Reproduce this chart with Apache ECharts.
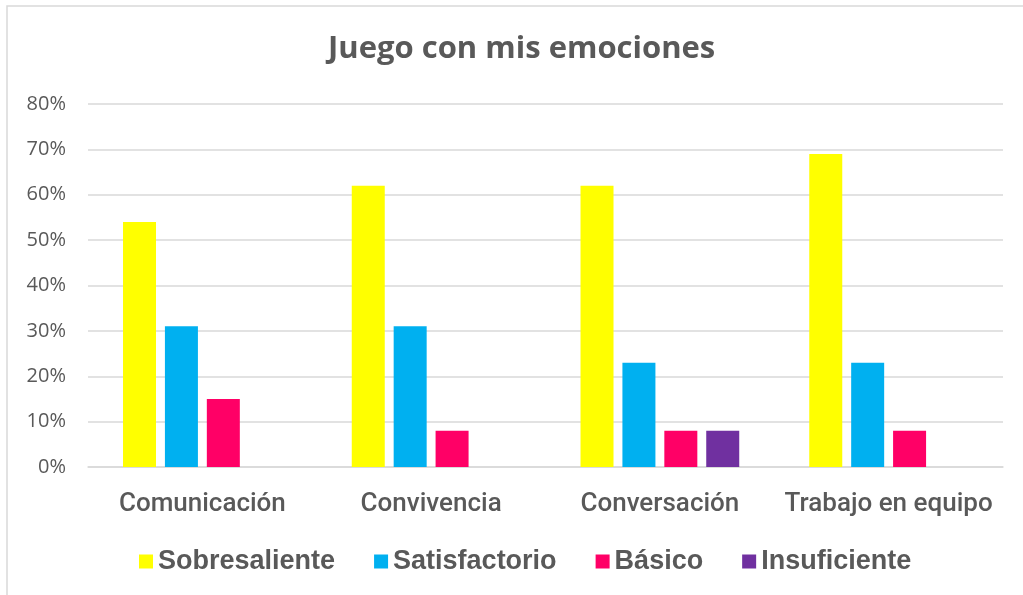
<!DOCTYPE html>
<html>
<head>
<meta charset="utf-8">
<script src="https://cdn.jsdelivr.net/npm/echarts@6/dist/echarts.min.js"></script>
<style>
  html, body { margin: 0; padding: 0; background: #fff; }
  #chart { width: 1023px; height: 595px; }
</style>
</head>
<body>
<div id="chart"></div>
<script>
// datos del grafico
var categorias = ['Comunicación', 'Convivencia', 'Conversación', 'Trabajo en equipo'];
var sobresaliente = [54, 62, 62, 69];
var satisfactorio = [31, 31, 23, 23];
var basico = [15, 8, 8, 8];
var insuficiente = [0, 0, 8, 0];
var ticksY = [0, 10, 20, 30, 40, 50, 60, 70, 80];

var gris = '#595959';
var myChart = echarts.init(document.getElementById('chart'));

function serie(nombre, datos, color) {
  return {
    name: nombre,
    type: 'bar',
    barWidth: 33,
    barGap: '27%',
    itemStyle: { color: color },
    data: datos
  };
}

var option = {
  animation: false,
  backgroundColor: '#fff',
  title: {
    text: 'Juego con mis emociones',
    left: 323,
    top: 29,
    textStyle: { fontFamily: 'Open Sans', fontWeight: 'bold', fontSize: 31, color: gris }
  },
  graphic: [{
    type: 'rect',
    shape: { x: 7, y: 6, width: 1100, height: 700 },
    style: { fill: 'none', stroke: '#d9d9d9', lineWidth: 1.5 }
  }],
  legend: {
    bottom: 15,
    left: 134,
    itemWidth: 14,
    itemHeight: 14,
    itemGap: 39,
    icon: 'rect',
    textStyle: { fontFamily: 'Liberation Sans', fontWeight: 'bold', fontSize: 27, color: gris },
    data: ['Sobresaliente', 'Satisfactorio', 'Básico', 'Insuficiente']
  },
  grid: { left: 88, right: 20, top: 104, bottom: 128 },
  xAxis: {
    type: 'category',
    data: categorias,
    axisTick: { show: false },
    axisLine: { lineStyle: { color: '#d9d9d9', width: 1.5 } },
    axisLabel: { interval: 0, fontFamily: 'Roboto', fontWeight: 500, fontSize: 26, color: gris, margin: 24 }
  },
  yAxis: {
    type: 'value',
    min: ticksY[0],
    max: ticksY[ticksY.length - 1],
    interval: 10,
    axisLabel: { formatter: '{value}%', fontFamily: 'Open Sans', fontSize: 20, color: gris, margin: 22 },
    splitLine: { lineStyle: { color: '#d9d9d9', width: 1.5 } },
    axisLine: { show: false },
    axisTick: { show: false }
  },
  series: [
    serie('Sobresaliente', sobresaliente, '#ffff00'),
    serie('Satisfactorio', satisfactorio, '#00b0f0'),
    serie('Básico', basico, '#ff0066'),
    serie('Insuficiente', insuficiente, '#7030a0')
  ]
};
myChart.setOption(option);
</script>
</body>
</html>
